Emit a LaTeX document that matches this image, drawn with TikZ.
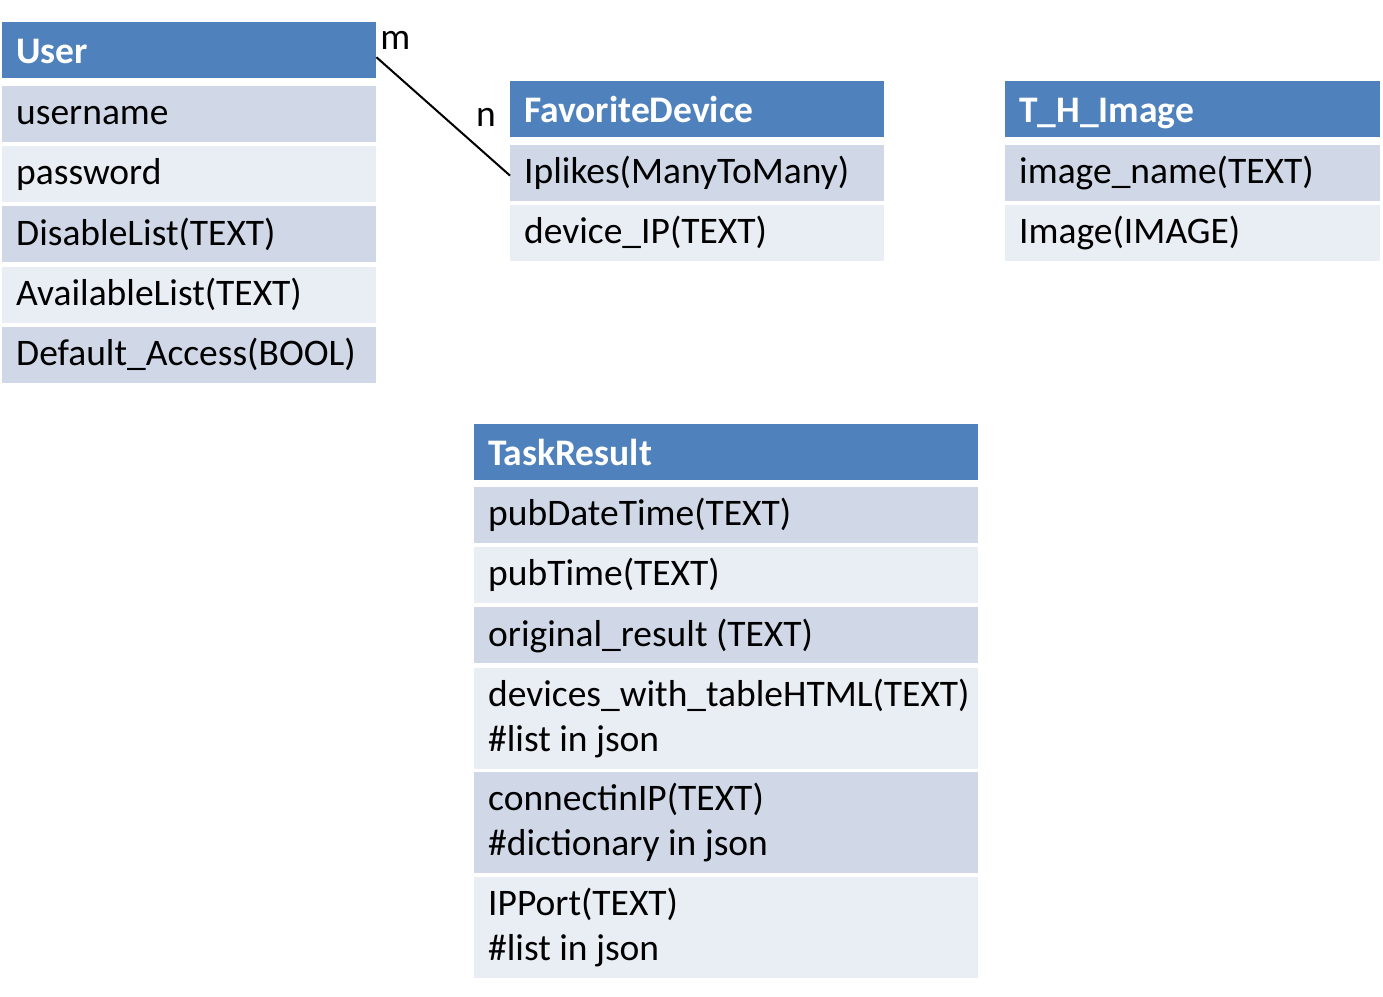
\documentclass[tikz,border=0pt]{standalone}
\usepackage{fontspec}
\setmainfont{Carlito}
\usetikzlibrary{positioning}
\definecolor{headblue}{HTML}{4F81BD}
\definecolor{rowdark}{HTML}{D0D8E8}
\definecolor{rowlight}{HTML}{E9EDF4}

\begin{document}
\begin{tikzpicture}[x=1pt,y=-1pt,node distance=4pt]
\tikzstyle{cell} = [rectangle, text=black, font=\fontsize{37.5}{45}\selectfont,
inner xsep=14pt, inner ysep=0pt, minimum height=56pt, text width=#1,
execute at begin node={\spaceskip=0pt\xspaceskip=0pt}]
\tikzstyle{head} = [cell=#1, fill=headblue, text=white, font=\fontsize{37.5}{45}\selectfont\bfseries,
text height=27pt, text depth=0pt]
\tikzstyle{field} = [cell=#1, text height=27pt, text depth=5.5pt]
\tikzstyle{multi} = [cell=#1, minimum height=101pt]
\tikzstyle{dark} = [fill=rowdark]
\tikzstyle{light} = [fill=rowlight]
\tikzstyle{line} = [draw, line width=2pt]
\useasboundingbox (0,0) rectangle (1383,996);
% table User
\node [head=346pt, anchor=north west] (user) at (2,22) {User};
\node [field=346pt, dark, below=7pt of user] (username) {username};
\node [field=346pt, light, below=of username] (password) {password};
\node [field=346pt, dark, below=of password] (disable) {DisableList(TEXT)};
\node [field=346pt, light, below=of disable] (available) {AvailableList(TEXT)};
\node [field=346pt, dark, below=of available] (access) {Default\_Access(BOOL)};
% table FavoriteDevice
\node [head=346pt, anchor=north west] (favorite) at (510,81) {FavoriteDevice};
\node [field=346pt, dark, below=7pt of favorite] (iplikes) {Iplikes(ManyToMany)};
\node [field=346pt, light, below=of iplikes] (deviceip) {device\_IP(TEXT)};
% table T_H_Image
\node [head=347pt, anchor=north west] (image) at (1005,81) {T\_H\_Image};
\node [field=347pt, dark, below=7pt of image] (imagename) {image\_name(TEXT)};
\node [field=347pt, light, below=of imagename] (imagefield) {Image(IMAGE)};
% table TaskResult
\node [head=476pt, anchor=north west] (task) at (474,424) {TaskResult};
\node [field=476pt, dark, below=6pt of task] (pubdate) {pubDateTime(TEXT)};
\node [field=476pt, light, below=of pubdate] (pubtime) {pubTime(TEXT)};
\node [field=476pt, dark, below=of pubtime] (original) {original\_result (TEXT)};
\node [multi=476pt, light, below=of original] (devices) {devices\_with\_tableHTML(TEXT)\\\#list in json};
\node [multi=476pt, dark, below=3pt of devices] (connect) {connectinIP(TEXT)\\\#dictionary in json};
\node [multi=476pt, light, below=3pt of connect] (ipport) {IPPort(TEXT)\\\#list in json};
% relation
\path [line] ([yshift=-7pt]user.east) -- ([yshift=-3pt]iplikes.west)
  node [at start, anchor=south west, font=\fontsize{37.5}{45}\selectfont, inner sep=2pt, xshift=1pt, yshift=5pt] {m}
  node [at end, font=\fontsize{37.5}{45}\selectfont, xshift=-24pt, yshift=58pt] {n};
\end{tikzpicture}
\end{document}
